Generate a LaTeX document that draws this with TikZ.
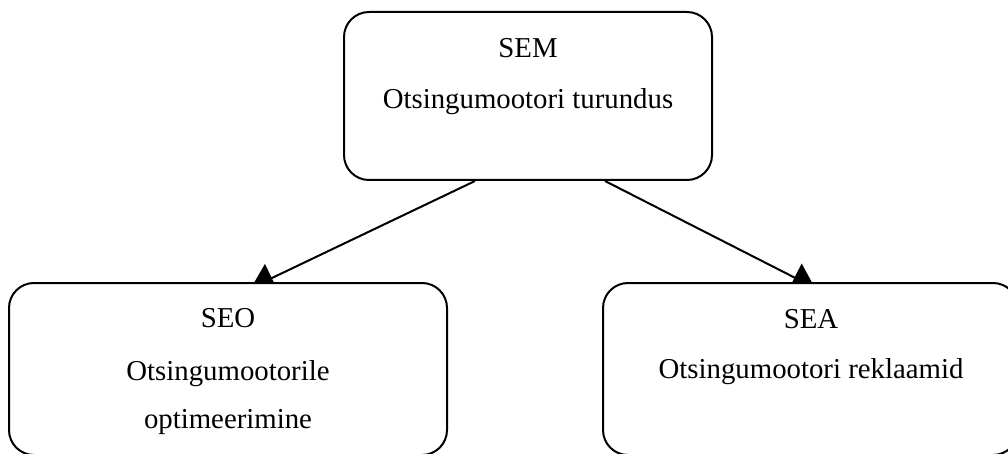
\documentclass[tikz,border=0pt]{standalone}
\usepackage{fontspec}
\setmainfont{Liberation Serif}
\usetikzlibrary{arrows.meta,calc}

\tikzset{
  box/.style={draw=black, fill=white, line width=2pt, rounded corners=25pt,
              rectangle, inner sep=0pt},
  lbl/.style={anchor=base, inner sep=0pt, font=\fontsize{28.8}{34}\selectfont},
  link/.style={draw=black, line width=2pt,
               -{Triangle[length=23pt, width=31pt]}},
}

\begin{document}
\begin{tikzpicture}[x=1pt, y=1pt]
  \clip (0,0) rectangle (1008,-454);
  \coordinate (corner) at (1008,0);

  % boxes
  \node[box, minimum width=368pt, minimum height=168pt] (sem) at (528,-96) {};
  \node[box, minimum width=438pt, minimum height=172pt] (seo) at (228,-369) {};
  \node[box, minimum width=415pt, minimum height=172pt] (sea) at (810.5,-369) {};

  % labels
  \node[lbl] (semA) at (528,-58)  {SEM};
  \node[lbl] (semB) at (528,-109) {Otsingumootori turundus};
  \node[lbl] (seoA) at (228,-327) {SEO};
  \node[lbl] (seoB) at (228,-380) {Otsingumootorile};
  \node[lbl] (seoC) at (228,-428) {optimeerimine};
  \node[lbl] (seaA) at (811,-328) {SEA};
  \node[lbl] (seaB) at (811,-378) {Otsingumootori reklaamid};

  % connectors, cut off where they enter the lower boxes
  \coordinate (seoTip) at (251,-288);
  \coordinate (seaTip) at (815,-288);
  \begin{scope}
    \clip (0,0) rectangle (corner |- seo.north);
    \draw[link] ($(sem.south)+(-53,0)$) -- (seoTip);
    \draw[link] ($(sem.south)+(77,0)$) -- (seaTip);
  \end{scope}
\end{tikzpicture}
\end{document}
